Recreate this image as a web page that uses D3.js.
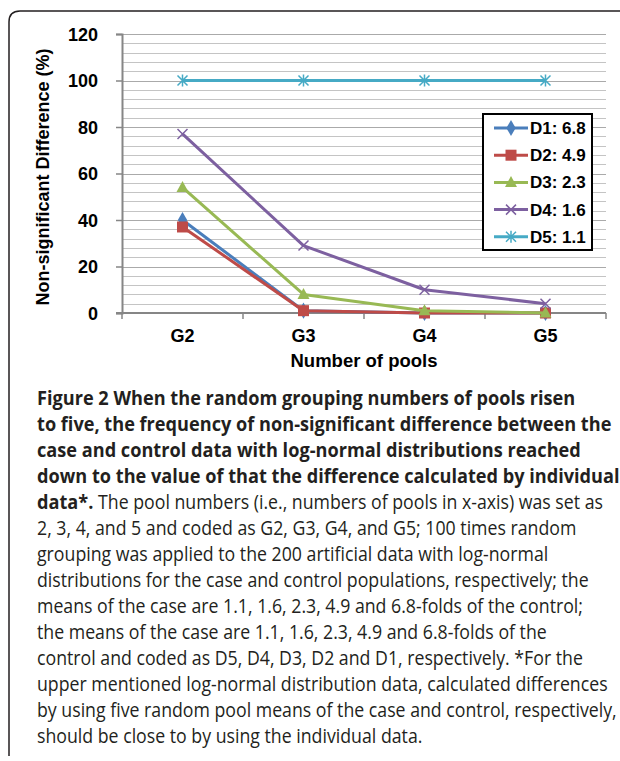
<!DOCTYPE html>
<html><head><meta charset="utf-8">
<script src="https://cdn.jsdelivr.net/npm/d3@7"></script>
<style>html,body{margin:0;padding:0;background:#fff;}svg{display:block;}</style>
</head><body>
<svg id="c" width="620" height="761"></svg>
<script>
const categories = ["G2", "G3", "G4", "G5"];
const seriesNames = ["D1: 6.8", "D2: 4.9", "D3: 2.3", "D4: 1.6", "D5: 1.1"];
const d1 = [40, 1, 0, 0];
const d2 = [37, 1, 0, 0];
const d3v = [54, 8, 1, 0];
const d4 = [77, 29, 10, 4];
const d5 = [100, 100, 100, 100];
const yTicks = [0, 20, 40, 60, 80, 100, 120];
const yTitle = "Non-significant Difference (%)";
const xTitle = "Number of pools";
const captionBold = [
  "Figure 2 When the random grouping numbers of pools risen",
  "to five, the frequency of non-significant difference between the",
  "case and control data with log-normal distributions reached",
  "down to the value of that the difference calculated by individual",
  "data*."
];
const captionRegular = [
  " The pool numbers (i.e., numbers of pools in x-axis) was set as",
  "2, 3, 4, and 5 and coded as G2, G3, G4, and G5; 100 times random",
  "grouping was applied to the 200 artificial data with log-normal",
  "distributions for the case and control populations, respectively; the",
  "means of the case are 1.1, 1.6, 2.3, 4.9 and 6.8-folds of the control;",
  "the means of the case are 1.1, 1.6, 2.3, 4.9 and 6.8-folds of the",
  "control and coded as D5, D4, D3, D2 and D1, respectively. *For the",
  "upper mentioned log-normal distribution data, calculated differences",
  "by using five random pool means of the case and control, respectively,",
  "should be close to by using the individual data."
];

(function () {
const svg = d3.select("#c");
const colors = ["#4A7EBB", "#BE4B48", "#98B954", "#7D60A0", "#46AAC5"];
const symbols = ["diamond", "square", "triangle", "x", "star"];
const series = [d1, d2, d3v, d4, d5];

// frame
svg.append("path").attr("d", "M9,756 V22 Q9,11 20,11 H620")
  .attr("fill", "none").attr("stroke", "#231f20").attr("stroke-width", 1.5);

const pL = 122, pR = 606, pT = 34, pB = 313;
const x = d3.scaleBand().domain(categories).range([pL, pR]).padding(0);
const y = d3.scaleLinear().domain([0, 120]).range([pB, pT]);
const cx = c => x(c) + x.bandwidth() / 2;

// gridlines every 4
const grid = d3.range(4, 121, 4);
svg.append("g").selectAll("line").data(grid).join("line")
  .attr("x1", pL).attr("x2", pR)
  .attr("y1", d => Math.round(y(d)) + 0.5).attr("y2", d => Math.round(y(d)) + 0.5)
  .attr("stroke", d => d % 20 === 0 ? "#aaaaaa" : "#c4c4c4").attr("stroke-width", 1);

// axes
const font = "'Liberation Sans', Arial, sans-serif";
const yAxis = d3.axisLeft(y).tickValues(yTicks).tickSize(6).tickPadding(18);
const gy = svg.append("g").attr("transform", `translate(${pL},0)`).call(yAxis);
gy.select(".domain").attr("stroke", "#868686").attr("stroke-width", 2);
gy.selectAll(".tick line").attr("stroke", "#868686").attr("stroke-width", 1.5);
gy.selectAll(".tick text").attr("font-family", font).attr("font-weight", "bold")
  .attr("font-size", 18).attr("fill", "#000").attr("dy", "0.36em");

const gx = svg.append("g").attr("transform", `translate(0,${pB})`);
gx.append("line").attr("x1", pL - 6).attr("x2", pR).attr("y1", 0).attr("y2", 0)
  .attr("stroke", "#868686").attr("stroke-width", 2);
const edges = categories.map(c => x(c)).concat([pR]);
gx.selectAll(".tk").data(edges).join("line").attr("class", "tk")
  .attr("x1", d => d).attr("x2", d => d).attr("y1", 0).attr("y2", 6)
  .attr("stroke", "#868686").attr("stroke-width", 1.5);
gx.selectAll(".lb").data(categories).join("text").attr("class", "lb")
  .attr("x", d => cx(d)).attr("y", 29).attr("text-anchor", "middle")
  .attr("font-family", font).attr("font-weight", "bold").attr("font-size", 18)
  .text(d => d);

svg.append("text").attr("x", (pL + pR) / 2).attr("y", 367).attr("text-anchor", "middle")
  .attr("font-family", font).attr("font-weight", "bold").attr("font-size", 18.5).text(xTitle);
svg.append("text").attr("transform", "translate(49,177) rotate(-90)").attr("text-anchor", "middle")
  .attr("font-family", font).attr("font-weight", "bold").attr("font-size", 18).text(yTitle);

function marker(g, type, color) {
  if (type === "diamond") {
    g.append("path").attr("d", d3.symbol(d3.symbolDiamond, 75)()).attr("fill", color);
  } else if (type === "square") {
    g.append("rect").attr("x", -5.5).attr("y", -5.5).attr("width", 11).attr("height", 11).attr("fill", color);
  } else if (type === "triangle") {
    g.append("path").attr("d", "M0,-6.5 L6,4.5 L-6,4.5 Z").attr("fill", color);
  } else if (type === "x") {
    g.append("path").attr("d", "M-5,-5 L5,5 M-5,5 L5,-5").attr("stroke", color).attr("stroke-width", 1.5);
  } else {
    g.append("path").attr("d", "M-5,-5 L5,5 M-5,5 L5,-5 M0,-6 V6").attr("stroke", color).attr("stroke-width", 1.5);
  }
}

const line = d3.line().x((d, i) => cx(categories[i])).y(d => y(d));
series.forEach((vals, si) => {
  const g = svg.append("g");
  g.append("path").attr("d", line(vals)).attr("fill", "none")
    .attr("stroke", colors[si]).attr("stroke-width", 3).attr("stroke-linejoin", "round");
  vals.forEach((v, i) => {
    const m = g.append("g").attr("transform", `translate(${cx(categories[i])},${y(v)})`);
    marker(m, symbols[si], colors[si]);
  });
});

// legend
const lg = svg.append("g");
lg.append("rect").attr("x", 483).attr("y", 114).attr("width", 109).attr("height", 136)
  .attr("fill", "#fff").attr("stroke", "#000").attr("stroke-width", 2);
seriesNames.forEach((name, i) => {
  const yy = 128 + i * 27.2;
  lg.append("line").attr("x1", 494).attr("x2", 528).attr("y1", yy).attr("y2", yy)
    .attr("stroke", colors[i]).attr("stroke-width", 3);
  const m = lg.append("g").attr("transform", `translate(511,${yy})`);
  marker(m, symbols[i], colors[i]);
  lg.append("text").attr("x", 530).attr("y", yy + 6).attr("font-family", font)
    .attr("font-weight", "bold").attr("font-size", 17).text(name);
});

// caption
const capFont = "'Open Sans', 'Noto Sans', sans-serif";
const cap = svg.append("g").attr("fill", "#231f20");
const cx0 = 37, by0 = 405, lh = 26;
function measure(txt, weight, size) {
  const t = svg.append("text").attr("font-family", capFont).attr("font-weight", weight)
    .attr("font-size", size).style("white-space", "pre").text(txt);
  const w = t.node().getComputedTextLength(); t.remove(); return w;
}
const bSize = 19.5, rSize = 19.5;
const kb = 575 / measure(captionBold[1], "bold", bSize);
const kr = 580 / measure(captionRegular[8], "normal", rSize);
captionBold.forEach((s, i) => {
  cap.append("text").attr("transform", `translate(${cx0},${by0 + i * lh}) scale(${kb},1)`)
    .attr("font-family", capFont).attr("font-weight", "bold").attr("font-size", bSize).text(s);
});
const wData = measure(captionBold[4], "bold", bSize) * kb;
captionRegular.forEach((s, i) => {
  const xx = i === 0 ? cx0 + wData : cx0;
  const yy = by0 + (i + 4) * lh;
  cap.append("text").attr("transform", `translate(${xx},${yy}) scale(${kr},1)`)
    .attr("font-family", capFont).attr("font-weight", "normal").attr("font-size", rSize)
    .style("white-space", "pre").text(s);
});
})();
</script>
</body></html>
